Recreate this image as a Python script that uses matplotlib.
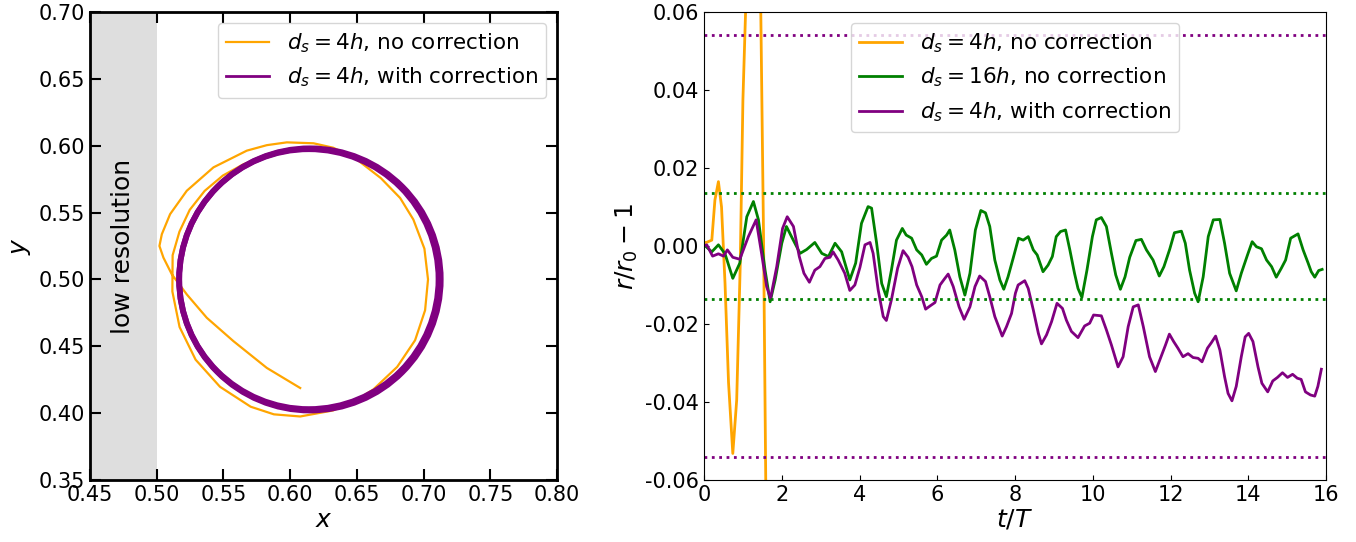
import numpy as np
import matplotlib.pyplot as plt
from matplotlib.patches import Circle

# ---- left panel: trajectories ----
# orange path (no correction) in order
traj_x = [0.7128, 0.7095, 0.6997, 0.6841, 0.6638, 0.6402, 0.6148, 0.5978, 0.5813, 0.5651,
          0.5496, 0.5359, 0.5247, 0.517, 0.5119, 0.5117, 0.5171, 0.5291, 0.5474, 0.5704,
          0.5878, 0.6075, 0.6321, 0.648, 0.6623, 0.6802, 0.6936, 0.7011, 0.7033, 0.7006,
          0.6923, 0.6824, 0.6679, 0.648, 0.6322, 0.6175, 0.5975, 0.5825, 0.5675, 0.5425,
          0.5225, 0.510, 0.5038, 0.502, 0.505, 0.5113, 0.5225, 0.5375, 0.5575, 0.5825,
          0.6075]
traj_y = [0.500, 0.5254, 0.549, 0.5693, 0.5849, 0.5947, 0.598, 0.5965, 0.5921, 0.5862,
          0.5777, 0.5662, 0.552, 0.5357, 0.5181, 0.491, 0.4644, 0.440, 0.4197, 0.4048,
          0.3991, 0.3975, 0.402, 0.4088, 0.4177, 0.4346, 0.4545, 0.4769, 0.500, 0.523,
          0.5448, 0.5609, 0.5758, 0.5912, 0.5985, 0.6018, 0.6025, 0.6004, 0.5963, 0.5838,
          0.5663, 0.5488, 0.5338, 0.525, 0.5163, 0.5038, 0.4888, 0.4713, 0.4538, 0.4338,
          0.4188]
# corrected orbit: circles read from the ring
orbit_cx = [0.6148, 0.6140]
orbit_cy = [0.5000, 0.5002]
orbit_r = [0.0980, 0.0972]

# ---- right panel: r/r0 - 1 vs t/T ----
t_orange = [0.0, 0.06, 0.2, 0.28, 0.37, 0.45, 0.54, 0.63, 0.74, 0.84, 0.93, 1.0, 1.07,
            1.14, 1.22, 1.3, 1.38, 1.46, 1.53, 1.59, 1.65]
v_orange = [0.0009, 0.0009, 0.0015, 0.0118, 0.0165, 0.010, -0.0096, -0.035, -0.0532,
            -0.0395, -0.0053, 0.0374, 0.0605, 0.085, 0.105, 0.112, 0.095, 0.060, 0.003,
            -0.063, -0.11]

t_green = [0.0, 0.2, 0.37, 0.54, 0.74, 0.92, 1.1, 1.27, 1.4, 1.57, 1.7, 1.83, 2.0, 2.12,
           2.25, 2.47, 2.64, 2.85, 3.03, 3.2, 3.37, 3.54, 3.75, 3.9, 4.05, 4.22, 4.31,
           4.44, 4.57, 4.69, 4.82, 4.95, 5.1, 5.2, 5.34, 5.47, 5.6, 5.72, 5.85, 5.98,
           6.11, 6.24, 6.32, 6.45, 6.58, 6.71, 6.84, 6.98, 7.12, 7.24, 7.35, 7.48, 7.61,
           7.71, 7.82, 7.95, 8.09, 8.21, 8.34, 8.47, 8.57, 8.72, 8.85, 8.96, 9.06, 9.17,
           9.3, 9.41, 9.53, 9.62, 9.72, 9.85, 9.99, 10.09, 10.22, 10.35, 10.48, 10.59,
           10.71, 10.83, 10.95, 11.11, 11.25, 11.38, 11.55, 11.71, 11.83, 11.98, 12.1,
           12.28, 12.38, 12.49, 12.62, 12.71, 12.84, 12.97, 13.1, 13.27, 13.39, 13.52,
           13.69, 13.82, 13.98, 14.1, 14.21, 14.34, 14.47, 14.6, 14.72, 14.85, 14.96,
           15.09, 15.28, 15.41, 15.54, 15.62, 15.71, 15.81, 15.9]
v_green = [0.0003, -0.0015, 0.0003, -0.002, -0.0083, -0.0044, 0.0075, 0.0114, 0.0067,
           -0.0062, -0.0143, -0.0087, 0.0007, 0.005, 0.0024, -0.0019, -0.0009, 0.0009,
           -0.0019, -0.0027, 0.0007, -0.0015, -0.0087, -0.0044, 0.0058, 0.0101, 0.0097,
           0.0007, -0.0096, -0.013, -0.0062, 0.0015, 0.0045, 0.0028, 0.002, -0.001,
           -0.0023, -0.0047, -0.0032, -0.0026, 0.0015, 0.0028, 0.0041, -0.001, -0.0079,
           -0.0126, -0.007, 0.0041, 0.0091, 0.0085, 0.005, -0.0036, -0.0087, -0.0111,
           -0.0079, -0.0032, 0.002, 0.0015, 0.0024, -0.001, -0.0023, -0.0066, -0.0049,
           -0.0027, 0.0024, 0.0037, 0.0041, -0.001, -0.007, -0.0109, -0.0132, -0.0062,
           0.0024, 0.0067, 0.0073, 0.005, -0.0019, -0.0074, -0.0111, -0.0079, -0.0029,
           0.0014, 0.0017, -0.001, -0.0036, -0.0077, -0.0053, -0.0008, 0.0034, 0.0038,
           0.0007, -0.0062, -0.0121, -0.0143, -0.0079, 0.0024, 0.0067, 0.0068, 0.0007,
           -0.007, -0.0115, -0.007, -0.0023, 0.0011, -0.0002, -0.0007, -0.0036, -0.0053,
           -0.008, -0.0057, -0.0036, 0.002, 0.0031, -0.001, -0.0044, -0.0066, -0.008,
           -0.0063, -0.006]

t_purple = [0.0, 0.07, 0.22, 0.37, 0.5, 0.6, 0.74, 0.92, 1.14, 1.34, 1.48, 1.61, 1.71,
            1.87, 2.02, 2.14, 2.3, 2.45, 2.57, 2.71, 2.85, 2.98, 3.11, 3.24, 3.32, 3.45,
            3.62, 3.75, 3.88, 4.01, 4.14, 4.27, 4.35, 4.48, 4.61, 4.69, 4.82, 4.98, 5.12,
            5.25, 5.35, 5.47, 5.6, 5.7, 5.81, 5.94, 6.07, 6.18, 6.28, 6.41, 6.56, 6.69,
            6.84, 6.97, 7.09, 7.24, 7.35, 7.48, 7.58, 7.67, 7.78, 7.91, 8.01, 8.08, 8.25,
            8.34, 8.47, 8.6, 8.68, 8.81, 8.94, 9.08, 9.22, 9.32, 9.45, 9.62, 9.79, 9.92,
            10.02, 10.22, 10.35, 10.48, 10.65, 10.78, 10.91, 11.04, 11.17, 11.3, 11.46,
            11.61, 11.74, 11.87, 11.97, 12.08, 12.19, 12.32, 12.45, 12.58, 12.71, 12.81,
            12.95, 13.05, 13.16, 13.27, 13.39, 13.48, 13.58, 13.69, 13.82, 13.92, 14.01,
            14.12, 14.25, 14.35, 14.5, 14.63, 14.75, 14.88, 15.01, 15.14, 15.26, 15.36,
            15.47, 15.6, 15.71, 15.79, 15.88]
v_purple = [0.0, 0.0003, -0.0026, -0.002, -0.0026, -0.001, -0.0029, -0.0034, 0.0024,
            0.0067, -0.0019, -0.0104, -0.0134, -0.0053, 0.0045, 0.0075, 0.005, -0.0027,
            -0.007, -0.0093, -0.0062, -0.0053, -0.0032, -0.0029, -0.0015, -0.0036, -0.007,
            -0.0114, -0.01, -0.0055, 0.0003, 0.0009, -0.0019, -0.0113, -0.0181, -0.0191,
            -0.0138, -0.0057, -0.0012, -0.0029, -0.0053, -0.01, -0.013, -0.0162, -0.0154,
            -0.0145, -0.01, -0.0085, -0.0072, -0.0104, -0.0156, -0.0188, -0.0156, -0.0104,
            -0.0077, -0.0091, -0.013, -0.0181, -0.0207, -0.0231, -0.0207, -0.0173, -0.0121,
            -0.01, -0.0089, -0.0109, -0.0164, -0.0224, -0.0251, -0.0228, -0.0194, -0.0147,
            -0.016, -0.019, -0.0219, -0.0235, -0.0205, -0.0198, -0.0177, -0.0179, -0.0215,
            -0.0254, -0.031, -0.0284, -0.0207, -0.0156, -0.0151, -0.0207, -0.0284, -0.0322,
            -0.0288, -0.0254, -0.0226, -0.0245, -0.0262, -0.0284, -0.0276, -0.0286,
            -0.0288, -0.0297, -0.0262, -0.0248, -0.0231, -0.0267, -0.0335, -0.0378,
            -0.0397, -0.036, -0.0284, -0.0233, -0.0224, -0.0245, -0.031, -0.0352, -0.0374,
            -0.0346, -0.0337, -0.0325, -0.0337, -0.0329, -0.0339, -0.0342, -0.0374,
            -0.0382, -0.0385, -0.036, -0.0316]

# dotted bounds
purple_bound = 0.054
green_bound = 0.0135

fig = plt.figure(figsize=(13.56, 5.42), dpi=100)
ax1 = fig.add_axes([0.0664, 0.1144, 0.3444, 0.8635])
ax2 = fig.add_axes([0.5192, 0.1144, 0.4587, 0.8635])

# left panel
ax1.axvspan(0.45, 0.50, color='#dedede', lw=0)
ax1.text(0.475, 0.525, 'low resolution', rotation=90, ha='center', va='center', fontsize=18)
ax1.plot(traj_x, traj_y, color='orange', lw=1.6, label=r'$d_s = 4h$, no correction')
for cx, cy, r in zip(orbit_cx, orbit_cy, orbit_r):
    ax1.add_patch(Circle((cx, cy), r, fill=False, ec='purple', lw=4.2, zorder=3))
ax1.plot([], [], color='purple', lw=2, label=r'$d_s = 4h$, with correction')
ax1.set_xlim(0.45, 0.80)
ax1.set_ylim(0.35, 0.70)
ax1.set_xticks(np.arange(0.45, 0.801, 0.05))
ax1.set_yticks(np.arange(0.35, 0.701, 0.05))
ax1.tick_params(direction='in', top=True, right=True, length=8, width=1.5, labelsize=15)
for s in ax1.spines.values():
    s.set_linewidth(2)
ax1.set_xlabel(r'$x$', fontsize=18, labelpad=2)
ax1.set_ylabel(r'$y$', fontsize=18, labelpad=4)
ax1.legend(loc='upper right', fontsize=15.5, handlelength=2)

# right panel
ax2.plot(t_orange, v_orange, color='orange', lw=2, label=r'$d_s = 4h$, no correction')
ax2.plot(t_green, v_green, color='green', lw=2, label=r'$d_s = 16h$, no correction')
ax2.plot(t_purple, v_purple, color='purple', lw=2, label=r'$d_s = 4h$, with correction')
for b in (purple_bound, -purple_bound):
    ax2.axhline(b, color='purple', ls=':', lw=2)
for b in (green_bound, -green_bound):
    ax2.axhline(b, color='green', ls=':', lw=2)
ax2.set_xlim(0, 16)
ax2.set_ylim(-0.06, 0.06)
ax2.set_xticks(range(0, 17, 2))
ax2.set_yticks(np.arange(-0.06, 0.061, 0.02))
ax2.yaxis.set_major_formatter(plt.FormatStrFormatter('%.2f'))
ax2.tick_params(direction='in', labelsize=15)
ax2.set_xlabel(r'$t/T$', fontsize=18, labelpad=2)
ax2.set_ylabel(r'$r/r_0 - 1$', fontsize=18)
ax2.legend(loc='upper center', fontsize=15.5)

fig.savefig('out.png', dpi=100)
